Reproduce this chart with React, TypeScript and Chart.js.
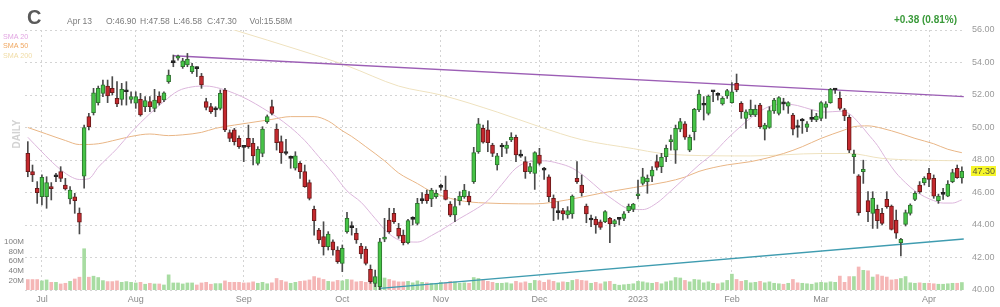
import React, { useEffect, useRef } from 'react';
import { Chart, registerables } from 'chart.js';

Chart.register(...registerables);

const FONT = 'Arial, "Liberation Sans", Helvetica, sans-serif';

// ---- Daily OHLC for C (Jun 28 2022 – Apr 13 2023), one entry per trading day ----
const opens = [
  48.41,47.28,46.26,45.74,45.74,46.36,46.97,47.28,46.46,45.60,
  45.74,44.74,47.01,50.67,50.91,51.53,52.10,52.55,52.41,51.79,
  51.73,52.20,51.73,51.49,51.73,51.28,51.59,51.18,51.94,51.69,
  52.82,53.99,54.26,53.74,53.85,53.44,53.64,53.17,51.59,51.28,
  51.08,51.18,52.31,49.68,49.85,49.33,48.80,49.33,49.03,47.79,
  48.41,50.36,51.28,49.91,49.13,48.41,48.10,47.49,47.79,47.28,
  46.61,44.96,43.69,43.28,42.67,42.97,42.46,41.64,43.59,43.85,
  43.49,42.71,42.52,41.27,40.41,40.20,43.13,44.31,44.72,43.79,
  43.38,42.91,44.35,44.10,45.50,45.90,45.60,45.74,46.32,46.15,
  45.29,44.62,45.50,45.74,45.78,46.67,48.51,49.95,49.85,48.92,
  47.69,48.80,48.72,49.23,49.40,48.25,47.90,47.28,47.18,48.31,
  47.40,46.97,45.64,44.76,44.88,44.62,44.68,46.87,46.46,45.17,
  44.31,44.35,44.20,44.20,44.41,44.06,44.35,44.41,44.88,44.96,
  45.80,46.56,46.67,47.01,47.90,47.59,48.21,49.13,48.61,49.89,
  50.22,48.61,49.74,51.08,51.37,50.87,52.20,52.00,51.45,51.94,
  51.53,52.72,51.49,50.56,50.77,50.77,51.38,49.89,50.01,51.02,
  50.87,51.49,51.32,50.77,50.02,50.40,50.01,50.50,50.46,50.56,
  51.24,51.53,52.31,51.80,51.08,50.63,48.20,47.02,47.28,45.50,
  44.72,44.96,44.72,45.58,45.17,44.31,42.91,44.04,44.72,45.58,
  46.46,46.60,47.18,46.87,45.50,45.88,45.78,46.67,47.49,46.90,
];
const highs = [
  49.13,47.69,46.67,47.08,46.97,46.61,47.18,47.59,46.87,46.36,
  45.95,45.05,50.15,50.87,52.41,52.55,52.92,52.92,53.13,52.82,
  52.72,52.82,52.20,52.20,52.10,51.90,51.90,52.35,52.20,52.20,
  53.54,54.46,54.46,54.26,54.56,53.95,53.74,53.33,51.80,51.49,
  51.28,52.31,52.41,49.85,49.95,49.48,48.82,50.15,49.33,48.82,
  50.05,50.77,51.69,50.22,49.48,49.27,48.25,48.51,47.90,47.69,
  46.77,45.17,43.79,44.20,43.59,43.08,42.67,42.77,44.78,44.20,
  43.79,42.87,42.67,41.54,41.23,43.18,44.41,45.03,45.03,44.10,
  43.69,44.35,44.51,45.64,45.99,46.15,46.26,46.15,46.52,47.01,
  45.44,45.64,46.05,46.50,46.05,48.78,50.56,50.15,50.42,49.03,
  48.41,49.03,49.13,49.68,49.54,48.61,48.20,47.79,48.51,48.72,
  47.55,47.08,45.85,45.44,45.03,45.13,45.85,47.90,47.08,45.29,
  44.61,44.51,44.31,44.88,44.47,44.35,44.47,44.82,45.29,45.33,
  46.77,47.49,47.08,47.59,48.31,48.41,48.92,49.54,50.15,50.56,
  50.36,49.54,51.18,52.31,51.90,52.00,52.27,52.14,51.90,52.35,
  52.76,53.29,51.59,51.08,51.69,51.38,51.49,50.26,51.28,51.79,
  51.90,51.80,51.59,50.87,50.46,50.56,50.36,51.08,50.87,51.59,
  51.59,52.41,52.41,52.20,51.18,50.77,48.61,47.10,47.99,46.05,
  46.05,45.23,45.03,46.05,45.23,44.92,43.18,44.92,45.30,46.05,
  46.67,46.97,47.49,47.08,45.90,46.26,46.73,47.43,47.69,47.58,
];
const lows = [
  46.97,46.67,45.33,45.23,45.03,45.54,46.67,46.67,46.15,45.29,
  44.72,43.45,46.26,49.85,50.77,51.38,51.90,51.53,52.00,51.28,
  51.38,51.38,51.49,51.18,50.70,50.97,50.97,50.97,51.38,51.59,
  52.72,53.74,54.15,53.64,53.74,53.33,53.13,52.41,51.08,50.87,
  50.67,51.08,49.74,49.13,48.92,48.72,47.90,48.72,47.69,47.69,
  48.20,50.26,50.77,48.61,47.79,48.31,47.49,47.38,46.87,46.32,
  45.54,43.38,42.87,42.15,42.46,42.15,41.64,41.13,43.49,43.38,
  42.87,41.95,41.54,40.41,40.20,40.02,42.97,43.49,44.10,43.18,
  42.77,42.83,44.00,44.00,45.33,45.33,45.13,45.64,46.15,45.54,
  44.51,44.20,45.23,45.64,45.23,46.56,48.41,49.03,48.51,48.21,
  47.38,48.20,48.41,49.13,47.90,48.16,46.87,47.18,46.19,47.69,
  46.81,45.44,44.27,44.35,44.31,44.41,44.41,46.56,45.78,44.14,
  43.90,43.49,43.73,44.14,42.91,43.90,44.00,44.27,44.76,44.82,
  45.60,46.46,45.95,46.67,47.38,47.22,47.90,48.61,47.79,49.74,
  49.27,48.51,49.23,50.97,50.46,50.77,51.59,51.69,51.38,51.79,
  51.49,52.20,50.56,49.95,50.67,50.67,49.95,49.23,49.95,50.87,
  50.77,51.08,50.87,49.54,49.40,49.64,49.74,50.36,50.36,50.42,
  50.56,51.49,52.10,51.08,50.42,48.45,47.18,44.60,46.56,44.20,
  43.79,43.79,44.00,45.03,43.69,43.18,42.09,43.94,44.61,45.50,
  45.95,46.46,46.36,45.64,45.33,45.58,45.74,46.60,46.87,46.58,
];
const closes = [
  47.28,47.08,45.99,46.93,46.61,46.24,46.99,46.87,46.22,46.15,
  45.50,44.18,49.99,50.05,52.14,52.41,52.62,51.94,52.14,51.45,
  52.35,52.22,51.90,51.90,50.77,51.65,51.28,51.69,51.49,52.14,
  53.23,54.01,54.40,54.11,54.20,53.78,53.62,52.62,51.24,50.97,
  51.10,52.10,49.85,49.33,49.13,48.82,48.78,48.82,48.25,48.66,
  49.91,50.67,50.87,49.07,48.45,48.40,48.11,48.25,47.28,46.36,
  45.64,44.27,43.08,42.67,43.44,42.46,41.74,42.56,44.41,43.84,
  43.08,42.22,41.64,40.51,40.82,42.97,43.23,43.59,44.20,43.31,
  42.91,44.27,44.38,45.33,45.52,45.50,46.15,45.95,46.34,45.58,
  44.61,45.13,45.78,46.15,45.44,48.45,50.22,49.10,49.07,48.41,
  48.25,48.84,48.92,49.40,48.31,48.24,47.28,47.59,48.45,47.79,
  47.38,45.74,45.03,44.77,44.68,44.88,45.78,46.67,45.99,44.68,
  44.32,44.00,43.85,44.82,44.06,44.27,44.36,44.68,45.17,45.29,
  45.90,46.97,46.87,47.38,47.55,48.17,48.72,49.23,49.95,50.36,
  49.40,49.40,51.12,52.06,51.40,51.94,52.21,51.98,51.80,52.27,
  52.20,52.31,50.97,50.97,51.12,51.12,50.05,50.15,51.04,51.69,
  51.84,51.45,51.53,49.89,50.00,50.41,50.22,50.51,50.71,51.53,
  51.45,52.35,52.32,51.18,50.71,48.61,48.37,44.76,47.43,44.82,
  45.64,44.27,44.10,45.13,43.73,43.49,43.12,44.76,45.23,45.95,
  46.05,46.87,46.81,45.78,45.78,45.90,46.52,47.22,46.92,47.30,
];
// volume in millions of shares
const volumes = [
  21.8,21.8,21.8,19,21,16,16,12.6,14,18,
  23,26.7,86,26.7,28.8,26,19.6,17.5,17.5,19,
  16,17.5,16,14.7,16,12,14,12.6,12.6,10.5,
  31.6,14.7,14.7,12.6,14.7,14.7,10.5,14.7,16,12,
  13.3,13.3,19,16,16,16,14.7,15,17,14,
  16,13,15,24,20,17,14,16,18,19,
  21,28,25,22,18,17,20,19,22,21,
  17,18,16,22,23,28,25,22,19,17,
  17,18,15,19,16,15,14,13,16,15,
  18,17,14,15,14,26,24,20,18,16,
  14,14,15,13,18,15,17,14,20,19,
  16,21,18,15,17,16,20,22,20,19,
  14,16,13,17,18,12,10,11,12,13,
  18,17,15,14,16,13,17,19,26,25,
  20,17,22,21,15,17,14,13,15,20,
  33,22,18,20,15,16,18,15,17,14,
  13,12,14,22,15,14,13,12,15,16,
  15,17,16,29,16,28,28,48,41,40,
  27,32,29,27,21,22,24,28,15,14,
  15,14,14,13,12,12,13,14,14,15.58,
];

// moving averages: [trading-day index, value]
const sma20: [number, number][] = [
  [0,49.4],[3,48.5],[6,47.65],[9,47.0],[11,46.8],[13,46.85],[15,47.55],[19,48.7],[22,49.7],
  [26,50.85],[29,51.6],[32,52.25],[35,52.5],[38,52.55],[41,52.4],[44,52.1],[47,51.7],[50,51.2],
  [53,50.65],[56,50.0],[59,49.2],[62,48.2],[65,47.2],[68,46.1],[71,45.4],[74,44.4],[77,43.45],
  [80,43.0],[83,42.95],[86,43.35],[89,43.85],[92,44.4],[95,44.9],[98,45.5],[101,46.5],[104,47.5],
  [107,47.9],[110,47.95],[113,47.8],[116,47.5],[119,46.9],[122,46.15],[125,45.5],[128,45.0],
  [131,44.95],[134,45.35],[137,46.1],[140,46.9],[143,47.7],[146,48.4],[149,49.3],[152,50.1],
  [155,50.8],[158,51.3],[161,51.45],[164,51.35],[167,51.1],[170,50.95],[173,51.0],[175,50.85],
  [177,50.3],[179,49.6],[181,48.9],[183,48.0],[185,47.2],[187,46.6],[189,46.1],[191,45.75],
  [193,45.5],[195,45.35],[197,45.35],[199,45.55],
];
const sma50: [number, number][] = [
  [0,50.0],[4,49.6],[8,49.2],[11,48.95],[15,49.0],[19,49.25],[22,49.45],[26,49.6],[30,49.5],
  [33,49.55],[37,49.7],[40,49.95],[44,50.15],[47,50.28],[52,50.5],[56,50.67],[61,50.67],
  [64,50.4],[67,49.8],[69,49.45],[72,48.82],[76,47.95],[79,47.2],[83,46.55],[86,46.05],
  [90,45.64],[94,45.42],[98,45.35],[101,45.32],[108,45.3],[115,45.55],[122,45.95],[129,46.3],
  [136,46.65],[140,46.95],[143,47.3],[149,47.7],[154,47.9],[161,48.4],[165,48.82],[169,49.33],
  [174,49.85],[176,50.05],[179,50.1],[182,49.95],[186,49.62],[189,49.33],[193,49.0],[196,48.66],
  [199,48.45],
];
const sma200: [number, number][] = [
  [30,57.25],[44,56.0],[58,54.75],[68,53.8],[79,52.55],[88,52.0],[100,50.95],[109,50.05],
  [118,49.25],[129,48.7],[135,48.4],[140,48.3],[154,48.25],[169,48.4],[175,48.4],[182,48.1],
  [189,48.0],[199,47.95],
];
// hand-drawn trend lines: [trading-day index, price]
const resistanceLine: [number, number][] = [[31, 54.42], [199.4, 51.9]];
const supportLine: [number, number][] = [[75, 40.1], [199.4, 43.14]];

// axis ticks
const monthTickIdx = [3, 23, 46, 67, 88, 109, 130, 150, 169, 192];
const monthTickLabels = ['Jul', 'Aug', 'Sep', 'Oct', 'Nov', 'Dec', '2023', 'Feb', 'Mar', 'Apr'];
const priceTicks = [40, 42, 44, 46, 48, 50, 52, 54, 56];
const volumeTicksM = [20, 40, 60, 80, 100];

const ticker = 'C';
const lastDateLabel = 'Apr 13';

const GREEN = '#46c446';
const GREEN_EDGE = '#2f7430';
const RED = '#c4292e';
const RED_EDGE = '#6a1a1a';
const DOJI = '#222222';

export default function App() {
  const ref = useRef<HTMLCanvasElement>(null);

  const last = closes.length - 1;
  const change = closes[last] - closes[last - 1];
  const changePct = (change / closes[last - 1]) * 100;

  useEffect(() => {
    if (!ref.current) return;
    const idx = closes.map((_, i) => i);
    const isDoji = (i: number) => Math.abs(opens[i] - closes[i]) <= 0.05;
    const isUp = (i: number) => closes[i] >= opens[i];

    const lastPricePlugin = {
      id: 'lastPrice',
      afterDraw(chart: any) {
        const yS = chart.scales.y;
        const y = yS.getPixelForValue(closes[last]);
        const c = chart.ctx;
        const x0 = chart.chartArea.right + 7;
        c.save();
        c.fillStyle = '#f6f62a';
        c.fillRect(x0, Math.round(y) - 5, 25, 10);
        c.fillStyle = '#5b5b3a';
        c.font = `9px ${FONT}`;
        c.textAlign = 'left';
        c.textBaseline = 'middle';
        c.fillText(closes[last].toFixed(2), x0 + 1.5, Math.round(y) + 0.5);
        c.restore();
      },
    };

    const lineDs = (label: string, pts: [number, number][], color: string, width: number, order: number, smooth: boolean) => ({
      type: 'line' as const,
      label,
      order,
      data: pts.map(([x, y]) => ({ x, y })),
      borderColor: color,
      borderWidth: width,
      pointRadius: 0,
      fill: false,
      cubicInterpolationMode: smooth ? ('monotone' as const) : ('default' as const),
      xAxisID: 'x',
      yAxisID: 'y',
    });

    const chart = new Chart(ref.current, {
      type: 'bar',
      data: {
        datasets: [
          {
            type: 'bar',
            label: 'body',
            order: 0,
            data: idx.map((i) => ({ x: i, y: [Math.min(opens[i], closes[i]), Math.max(opens[i], closes[i])] })) as any,
            backgroundColor: idx.map((i) => (isDoji(i) ? DOJI : isUp(i) ? GREEN : RED)),
            borderColor: idx.map((i) => (isDoji(i) ? DOJI : isUp(i) ? GREEN_EDGE : RED_EDGE)),
            borderWidth: 1,
            borderSkipped: false,
            barThickness: 4,
            minBarLength: 2,
            grouped: false,
            xAxisID: 'x',
            yAxisID: 'y',
          } as any,
          {
            type: 'bar',
            label: 'wick',
            order: 1,
            data: idx.map((i) => ({ x: i, y: [lows[i], highs[i]] })) as any,
            backgroundColor: '#4a4a4a',
            barThickness: 1,
            grouped: false,
            xAxisID: 'x',
            yAxisID: 'y',
          } as any,
          lineDs('Resistance', resistanceLine, '#9c5eb5', 1.5, 2, false) as any,
          lineDs('Support', supportLine, '#3f9cb0', 1.5, 2, false) as any,
          lineDs('SMA 20', sma20, '#dcb6dc', 1, 3, true) as any,
          lineDs('SMA 50', sma50, '#e9b686', 1, 3, true) as any,
          lineDs('SMA 200', sma200, '#efe2bf', 1, 3, true) as any,
          {
            type: 'bar',
            label: 'Volume',
            order: 5,
            data: idx.map((i) => ({ x: i, y: volumes[i] * 1e6 })) as any,
            backgroundColor: idx.map((i) => (isUp(i) ? '#a8dca2' : '#f5b6b6')),
            barThickness: 3,
            grouped: false,
            xAxisID: 'x',
            yAxisID: 'vol',
          } as any,
        ],
      },
      options: {
        animation: false,
        responsive: false,
        maintainAspectRatio: false,
        layout: { padding: { top: 30, left: 0, right: 0, bottom: 0 } },
        plugins: { legend: { display: false }, tooltip: { enabled: false } },
        scales: {
          x: {
            type: 'linear',
            min: -0.6,
            max: 199.45,
            offset: false,
            afterBuildTicks: (s: any) => {
              s.ticks = monthTickIdx.map((v) => ({ value: v }));
            },
            afterFit: (s: any) => {
              s.height = 17;
            },
            ticks: {
              autoSkip: false,
              maxRotation: 0,
              padding: 4,
              color: '#8a8a8a',
              font: { size: 9, family: FONT },
              callback: (v: any) => {
                const k = monthTickIdx.indexOf(Number(v));
                return k >= 0 ? monthTickLabels[k] : '';
              },
            },
            grid: { color: '#d4d4d4', drawTicks: false, offset: false, lineWidth: 1 },
            border: { display: false, dash: [2, 3] },
          },
          y: {
            type: 'linear',
            position: 'right',
            min: 40,
            max: 56,
            afterBuildTicks: (s: any) => {
              s.ticks = priceTicks.map((v) => ({ value: v }));
            },
            afterFit: (s: any) => {
              s.width = 36;
            },
            ticks: {
              autoSkip: false,
              padding: 8,
              color: '#9a9a9a',
              font: { size: 9, family: FONT },
              callback: (v: any) => Number(v).toFixed(2),
            },
            grid: { color: '#d4d4d4', drawTicks: false, lineWidth: 1 },
            border: { display: false, dash: [2, 3] },
          },
          vol: {
            type: 'linear',
            position: 'left',
            min: 0,
            max: 542e6,
            afterBuildTicks: (s: any) => {
              s.ticks = volumeTicksM.map((v) => ({ value: v * 1e6 }));
            },
            afterFit: (s: any) => {
              s.width = 25;
            },
            ticks: {
              autoSkip: false,
              padding: 1,
              color: '#808080',
              font: { size: 8, family: FONT },
              callback: (v: any) => `${Math.round(Number(v) / 1e6)}M`,
            },
            grid: { display: false, drawTicks: false },
            border: { display: false },
          },
        },
      } as any,
      plugins: [lastPricePlugin],
    });
    return () => chart.destroy();
  }, []);

  const small: React.CSSProperties = {
    position: 'absolute',
    top: 16.5,
    fontSize: 8.5,
    lineHeight: 1,
    color: '#7a7a7a',
    whiteSpace: 'nowrap',
  };
  const legend: React.CSSProperties = {
    position: 'absolute',
    left: 3,
    fontSize: 7.2,
    lineHeight: 1,
    whiteSpace: 'nowrap',
  };

  return (
    <div
      style={{
        position: 'absolute',
        left: 0,
        top: 0,
        width: 1000,
        height: 307,
        background: '#ffffff',
        overflow: 'hidden',
        fontFamily: FONT,
      }}
    >
      <canvas ref={ref} width={1000} height={307} style={{ position: 'absolute', left: 0, top: 0, width: 1000, height: 307 }} />
      <div style={{ position: 'absolute', left: 27, top: 6.5, fontSize: 20, fontWeight: 'bold', lineHeight: 1, color: '#5a5a5a' }}>{ticker}</div>
      <div style={{ ...small, left: 67 }}>{lastDateLabel}</div>
      <div style={{ ...small, left: 106 }}>{`O:${opens[last].toFixed(2)}`}</div>
      <div style={{ ...small, left: 140 }}>{`H:${highs[last].toFixed(2)}`}</div>
      <div style={{ ...small, left: 173.5 }}>{`L:${lows[last].toFixed(2)}`}</div>
      <div style={{ ...small, left: 207 }}>{`C:${closes[last].toFixed(2)}`}</div>
      <div style={{ ...small, left: 249.5 }}>{`Vol:${volumes[last].toFixed(2)}M`}</div>
      <div
        style={{
          position: 'absolute',
          right: 43,
          top: 15,
          fontSize: 10,
          fontWeight: 'bold',
          lineHeight: 1,
          color: '#3a9a3a',
          whiteSpace: 'nowrap',
        }}
      >
        {`${change >= 0 ? '+' : ''}${change.toFixed(2)} (${changePct.toFixed(2)}%)`}
      </div>
      <div style={{ ...legend, top: 32.5, color: '#e2a6e2' }}>SMA 20</div>
      <div style={{ ...legend, top: 42, color: '#f0a862' }}>SMA 50</div>
      <div style={{ ...legend, top: 51.5, color: '#f0dca6' }}>SMA 200</div>
      <div
        style={{
          position: 'absolute',
          left: 17,
          top: 134,
          transform: 'translate(-50%, -50%) rotate(-90deg)',
          fontSize: 10,
          fontWeight: 'bold',
          lineHeight: 1,
          color: '#d2d2d2',
          whiteSpace: 'nowrap',
        }}
      >
        DAILY
      </div>
    </div>
  );
}
